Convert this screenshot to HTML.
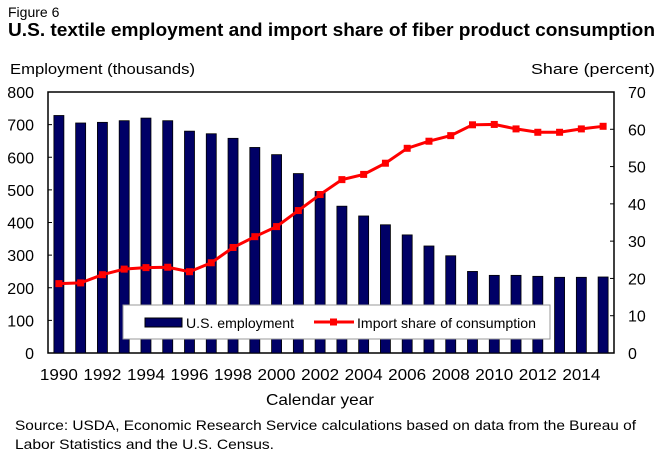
<!DOCTYPE html>
<html><head><meta charset="utf-8"><style>
body{margin:0;background:#fff;width:661px;height:453px;overflow:hidden;font-family:"Liberation Sans",Arial,sans-serif;}
</style></head><body>
<svg width="661" height="453" xmlns="http://www.w3.org/2000/svg" font-family="Liberation Sans, Arial, sans-serif" id="chart">
<text x="8" y="17" font-size="14">Figure 6</text>
<text x="8" y="36" font-size="18" font-weight="bold" textLength="647" lengthAdjust="spacingAndGlyphs">U.S. textile employment and import share of fiber product consumption</text>
<text x="10" y="74" font-size="15" textLength="185" lengthAdjust="spacingAndGlyphs">Employment (thousands)</text>
<text x="655" y="74" font-size="15" text-anchor="end" textLength="124" lengthAdjust="spacingAndGlyphs">Share (percent)</text>
<text x="320" y="405" font-size="16" text-anchor="middle" textLength="108" lengthAdjust="spacingAndGlyphs">Calendar year</text>
<text x="15" y="430" font-size="14" textLength="621" lengthAdjust="spacingAndGlyphs">Source: USDA, Economic Research Service calculations based on data from the Bureau of</text>
<text x="15" y="449" font-size="14" textLength="259" lengthAdjust="spacingAndGlyphs">Labor Statistics and the U.S. Census.</text>
<g id="plot"></g>
</svg>
<script>
const years=[1990,1991,1992,1993,1994,1995,1996,1997,1998,1999,2000,2001,2002,2003,2004,2005,2006,2007,2008,2009,2010,2011,2012,2013,2014,2015];
const employment=[728,705,707,712,720,712,680,672,658,630,608,550,495,450,420,393,362,328,298,250,238,238,235,232,232,233];
const importShare=[18.6,18.8,21,22.5,22.9,23,21.8,24.2,28.3,31.2,33.9,38.2,42.5,46.5,47.9,50.9,54.9,56.8,58.3,61.2,61.3,60.1,59.2,59.2,60.1,60.8];
const leftTicks=[0,100,200,300,400,500,600,700,800];
const rightTicks=[0,10,20,30,40,50,60,70];
const xLabels=[1990,1992,1994,1996,1998,2000,2002,2004,2006,2008,2010,2012,2014];
const NS="http://www.w3.org/2000/svg";
const L=48,R=614,T=92,B=353;
const band=(R-L)/years.length;
const xc=i=>L+band*(i+0.5);
const yl=v=>B-(v/800)*(B-T);
const yr=v=>B-(v/70)*(B-T);
const g=document.getElementById('plot');
function mk(tag,attrs,parent){const e=document.createElementNS(NS,tag);for(const k in attrs)e.setAttribute(k,attrs[k]);(parent||g).appendChild(e);return e;}
mk('rect',{x:L,y:T,width:R-L,height:B-T,fill:'none',stroke:'#000','stroke-width':1.5});
leftTicks.forEach(v=>{
 const t=mk('line',{x1:L,x2:L+4,y1:yl(v),y2:yl(v),stroke:'#000'});
 
 
 const tx=mk('text',{x:L-14,y:yl(v)+6,'font-size':16,'text-anchor':'end'});tx.textContent=v;
 
 
});
rightTicks.forEach(v=>{
 mk('line',{x1:R-4,x2:R,y1:yr(v),y2:yr(v),stroke:'#000'});
 const tx=mk('text',{x:R+14,y:yr(v)+6,'font-size':16});tx.textContent=v;
 
 
});
years.forEach((y,i)=>{
 const b=mk('rect',{x:xc(i)-5,y:yl(employment[i]),width:10,height:B-yl(employment[i]),fill:'#000066',stroke:'#000','stroke-width':0.8});
 
 
});
xLabels.forEach(y=>{
 const i=years.indexOf(y);
 const tx=mk('text',{x:xc(i),y:B+27,'font-size':16,'text-anchor':'middle',textLength:38,lengthAdjust:'spacingAndGlyphs'});tx.textContent=y;
 
 
});
const line=mk('polyline',{points:importShare.map((v,i)=>xc(i)+','+yr(v)).join(' '),fill:'none',stroke:'#ff0000','stroke-width':3});


importShare.forEach((v,i)=>{
 const m=mk('rect',{x:xc(i)-3.5,y:yr(v)-3.5,width:7,height:7,fill:'#ff0000'});
 
 
});
const lg=mk('g',{});


mk('rect',{x:123,y:305,width:427,height:34,fill:'#fff',stroke:'#999'},lg);
const e1=mk('rect',{x:145,y:318,width:37,height:9,fill:'#000066',stroke:'#000'},lg);


const t1=mk('text',{x:186,y:328,'font-size':14,textLength:108,lengthAdjust:'spacingAndGlyphs'},lg);t1.textContent='U.S. employment';
mk('line',{x1:314,x2:354,y1:322,y2:322,stroke:'#ff0000','stroke-width':3},lg);
mk('rect',{x:330,y:318.5,width:7,height:7,fill:'#ff0000'},lg);
const t2=mk('text',{x:357,y:328,'font-size':14,textLength:179,lengthAdjust:'spacingAndGlyphs'},lg);t2.textContent='Import share of consumption';
</script>
</body></html>
